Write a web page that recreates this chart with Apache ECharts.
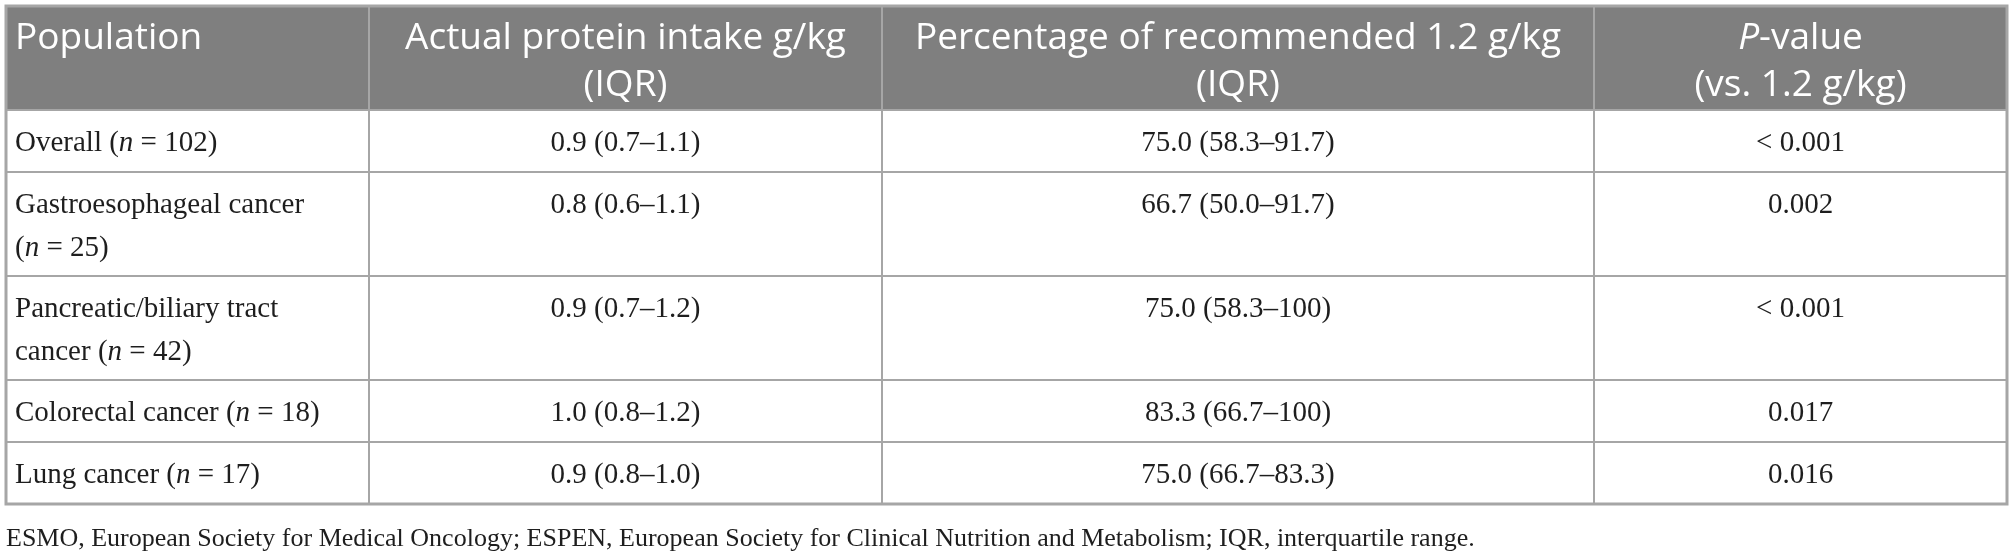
<!DOCTYPE html>
<html>
<head>
<meta charset="utf-8">
<script src="https://cdn.jsdelivr.net/npm/echarts@6/dist/echarts.min.js"></script>
<style>
html,body{margin:0;padding:0;background:#ffffff;}
#c{width:2016px;height:558px;}
</style>
</head>
<body>
<div id="c"></div>
<script>
// ---- data ----
const headers = [
  'Population',
  'Actual protein intake g/kg\n(IQR)',
  'Percentage of recommended 1.2 g/kg\n(IQR)',
  '{i|P}-value\n(vs. 1.2 g/kg)'
];
const populations = [
  'Overall ({i|n} = 102)',
  'Gastroesophageal cancer\n({i|n} = 25)',
  'Pancreatic/biliary tract\ncancer ({i|n} = 42)',
  'Colorectal cancer ({i|n} = 18)',
  'Lung cancer ({i|n} = 17)'
];
const intake = ['0.9 (0.7–1.1)', '0.8 (0.6–1.1)', '0.9 (0.7–1.2)', '1.0 (0.8–1.2)', '0.9 (0.8–1.0)'];
const percentage = ['75.0 (58.3–91.7)', '66.7 (50.0–91.7)', '75.0 (58.3–100)', '83.3 (66.7–100)', '75.0 (66.7–83.3)'];
const pValues = ['< 0.001', '0.002', '< 0.001', '0.017', '0.016'];
const footnote = 'ESMO, European Society for Medical Oncology; ESPEN, European Society for Clinical Nutrition and Metabolism; IQR, interquartile range.';

// ---- layout ----
const colEdges = [0, 363, 876, 1588, 2001];
const rows = [headers].concat(populations.map((p, i) => [p, intake[i], percentage[i], pValues[i]]));
const lineCount = r => Math.max.apply(null, r.map(t => t.split('\n').length));
const rowEdges = [0];
rows.forEach(r => rowEdges.push(rowEdges[rowEdges.length - 1] + 20 + 42 * lineCount(r)));
const tableW = colEdges[colEdges.length - 1];
const tableH = rowEdges[rowEdges.length - 1];

const cells = [];
rows.forEach((r, ri) => r.forEach((t, ci) => cells.push({ value: [ci, ri], text: t })));

const SERIF = '"Liberation Serif", "Times New Roman", serif';
const SANS = '"Open Sans", "Noto Sans", sans-serif';
const LINE = '#a6a6a6';

function cellRender(params, api) {
  const c = cells[params.dataIndex];
  const ci = c.value[0], ri = c.value[1];
  const p0 = api.coord([colEdges[ci], rowEdges[ri]]);
  const p1 = api.coord([colEdges[ci + 1], rowEdges[ri + 1]]);
  const header = ri === 0;
  const fam = header ? SANS : SERIF;
  const size = header ? 37 : 29;
  const lh = header ? 47 : 43;
  const color = header ? '#ffffff' : '#1e1e1e';
  return {
    type: 'group',
    children: [
      {
        type: 'rect',
        shape: { x: p0[0], y: p0[1], width: p1[0] - p0[0], height: p1[1] - p0[1] },
        style: { fill: header ? '#7f7f7f' : '#ffffff', stroke: LINE, lineWidth: 2 }
      },
      {
        type: 'text',
        style: {
          text: c.text,
          x: ci === 0 ? p0[0] + 9 : (p0[0] + p1[0]) / 2,
          y: p0[1] + (header ? 9 : 12),
          align: ci === 0 ? 'left' : 'center',
          verticalAlign: 'top',
          fill: color,
          fontFamily: fam,
          fontSize: size,
          lineHeight: lh,
          rich: {
            i: { fontStyle: 'italic', fontFamily: fam, fontSize: size, lineHeight: lh, fill: color }
          }
        }
      }
    ]
  };
}

function frameRender(params, api) {
  const p0 = api.coord([0, 0]);
  const p1 = api.coord([tableW, tableH]);
  return {
    type: 'rect',
    shape: { x: p0[0], y: p0[1], width: p1[0] - p0[0], height: p1[1] - p0[1] },
    style: { fill: 'none', stroke: LINE, lineWidth: 3 }
  };
}

const chart = echarts.init(document.getElementById('c'), null, { renderer: 'canvas' });
chart.setOption({
  animation: false,
  backgroundColor: '#ffffff',
  grid: { left: 6, top: 6, width: tableW, height: tableH, containLabel: false },
  xAxis: { type: 'value', min: 0, max: tableW, show: false },
  yAxis: { type: 'value', min: 0, max: tableH, inverse: true, show: false },
  series: [
    { type: 'custom', clip: false, renderItem: cellRender, data: cells.map(c => c.value), encode: { x: 0, y: 1 } },
    { type: 'custom', clip: false, renderItem: frameRender, data: [[0, 0]], encode: { x: 0, y: 1 }, z: 5 }
  ],
  graphic: [
    {
      type: 'text',
      x: 6,
      y: 539,
      style: {
        text: footnote,
        fontFamily: SERIF,
        fontSize: 26,
        verticalAlign: 'middle',
        fill: '#1e1e1e'
      }
    }
  ]
});
</script>
</body>
</html>
